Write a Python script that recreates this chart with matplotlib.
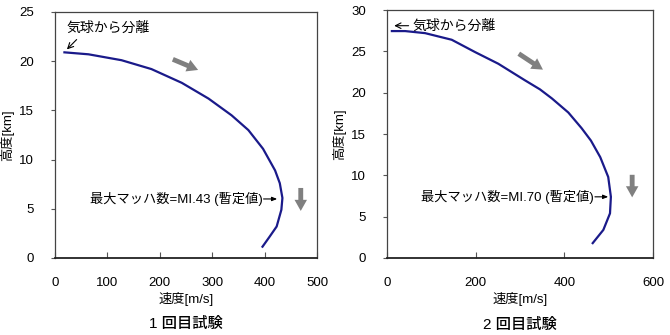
import matplotlib.pyplot as plt

plt.rcParams['font.family'] = ['Liberation Sans', 'Noto Sans CJK JP']

# 1st test: speed [m/s] vs altitude [km]
speed1 = [18, 64, 127, 184, 242, 293, 337, 369, 397, 420, 429, 434, 432, 423, 410, 396]
alt1 = [20.9, 20.7, 20.1, 19.2, 17.8, 16.2, 14.5, 13.0, 11.1, 8.9, 7.6, 6.1, 4.9, 3.2, 2.2, 1.15]

# 2nd test
speed2 = [11, 41, 86, 146, 199, 251, 311, 345, 372, 409, 439, 460, 481, 499, 505, 503, 488, 464]
alt2 = [27.45, 27.45, 27.2, 26.4, 24.9, 23.5, 21.5, 20.4, 19.3, 17.6, 15.7, 14.2, 12.2, 9.8, 7.4, 5.4, 3.4, 1.8]

titles = ['1 回目試験', '2 回目試験']
mach_labels = ['最大マッハ数=MI.43 (暫定値)', '最大マッハ数=MI.70 (暫定値)']

fig = plt.figure(figsize=(6.7, 3.35), dpi=100)
ax1 = fig.add_axes([55 / 670, 77 / 335, 262 / 670, 246 / 335])
ax2 = fig.add_axes([387 / 670, 77 / 335, 266 / 670, 248 / 335])

line_color = '#1a1a8a'
grey = '#808080'
big_arrow = 'simple,head_width=0.9,head_length=0.8,tail_width=0.35'
cjk = ['Noto Sans CJK JP']

def style(ax, xmax, xstep, ymax):
	ax.set_xlim(0, xmax)
	ax.set_ylim(0, ymax)
	ax.set_xticks(range(0, xmax + 1, xstep))
	ax.set_yticks(range(0, ymax + 1, 5))
	ax.tick_params(axis='x', direction='in', length=4, pad=14, labelsize=9.5, color='#555555')
	ax.tick_params(axis='y', direction='out', length=3, pad=12, labelsize=9.5, color='#555555')
	for s in ax.spines.values():
		s.set_color('#444444')
		s.set_linewidth(0.9)
	ax.spines['bottom'].set_color('#222222')
	ax.spines['bottom'].set_linewidth(1.3)
	ax.set_xlabel('速度[m/s]', fontsize=9.5, labelpad=2)
	ax.set_ylabel('高度[km]', fontsize=9.5, labelpad=4)

def mach_text(ax, x, y, label, span):
	# label text, then a small arrow pointing at the curve
	ax.annotate('', xy=(x, y), xytext=(x - span, y),
		arrowprops=dict(arrowstyle='-|>,head_width=0.12,head_length=0.3',
		color='black', lw=0.8, shrinkA=0, shrinkB=0))
	ax.text(x - span - 2, y, label, fontsize=9.5, va='center', ha='right')

# left panel
ax1.plot(speed1, alt1, color=line_color, lw=1.6)
style(ax1, 500, 100, 25)
ax1.annotate('', xy=(19, 21.0), xytext=(45, 22.4),
	arrowprops=dict(arrowstyle='->', color='black', lw=0.8))
ax1.text(22, 23.4, '気球から分離', fontsize=10, va='center', ha='left', family=cjk)
ax1.annotate('', xy=(278, 19.0), xytext=(220, 20.3),
	arrowprops=dict(arrowstyle=big_arrow, color=grey, lw=0))
ax1.annotate('', xy=(469, 4.5), xytext=(469, 7.4),
	arrowprops=dict(arrowstyle=big_arrow, color=grey, lw=0))
mach_text(ax1, 424, 6.0, mach_labels[0], 26)
ax1.text(0.5, -0.27, titles[0], transform=ax1.transAxes, ha='center', va='center',
	fontsize=11, fontweight='medium')

# right panel
ax2.plot(speed2, alt2, color=line_color, lw=1.6)
style(ax2, 600, 200, 30)
ax2.annotate('', xy=(10, 28.1), xytext=(55, 28.1),
	arrowprops=dict(arrowstyle='->', color='black', lw=0.8))
ax2.text(58, 28.1, '気球から分離', fontsize=10, va='center', ha='left', family=cjk)
ax2.annotate('', xy=(357, 22.6), xytext=(292, 24.9),
	arrowprops=dict(arrowstyle=big_arrow, color=grey, lw=0))
ax2.annotate('', xy=(553, 7.0), xytext=(553, 10.4),
	arrowprops=dict(arrowstyle=big_arrow, color=grey, lw=0))
mach_text(ax2, 499, 7.4, mach_labels[1], 30)
ax2.text(0.5, -0.27, titles[1], transform=ax2.transAxes, ha='center', va='center',
	fontsize=11, fontweight='medium')

fig.savefig('out.png', dpi=100)
